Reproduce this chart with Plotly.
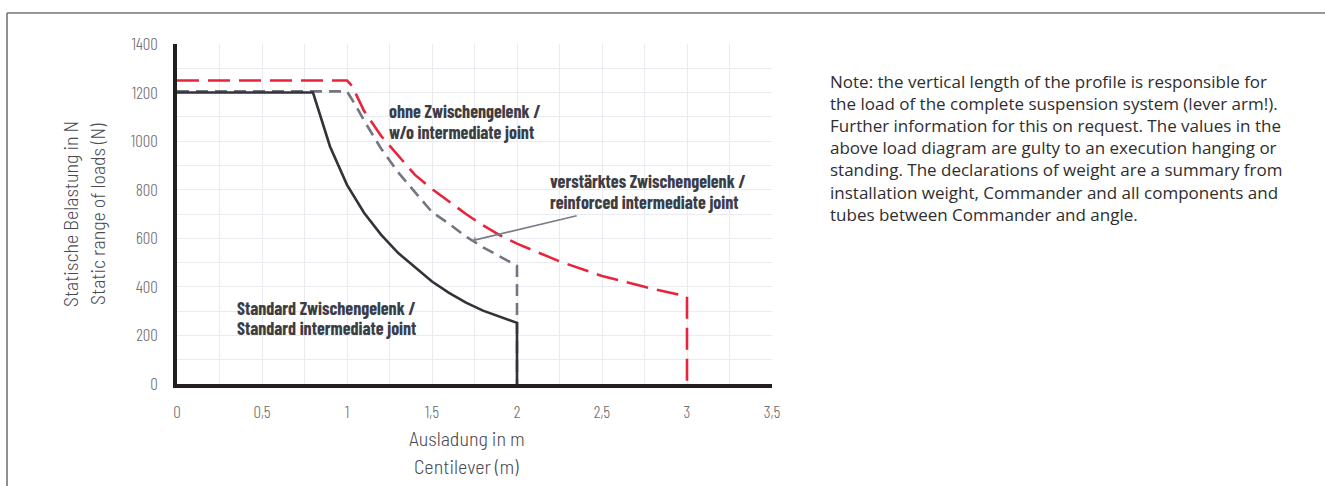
import plotly.graph_objects as go

# Load curves: cantilever length (m) vs. permissible static load (N)
std_x = [0, 0.8, 0.9, 1.0, 1.1, 1.2, 1.3, 1.4, 1.5, 1.6, 1.7, 1.8, 1.9, 2.0, 2.0]
std_y = [1200, 1200, 978, 820, 705, 615, 540, 480, 422, 375, 335, 302, 276, 252, 0]

reinf_x = [0, 1.0, 1.05, 1.1, 1.2, 1.3, 1.4, 1.5, 1.6, 1.7, 1.8, 1.9, 2.0, 2.0]
reinf_y = [1205, 1205, 1148, 1085, 970, 872, 790, 708, 660, 607, 563, 524, 487, 0]

nojoint_x = [0, 1.0, 1.03, 1.1, 1.2, 1.3, 1.4, 1.5, 1.6, 1.7, 1.8, 1.9, 2.0, 2.25, 2.5, 2.75, 3.0, 3.0]
nojoint_y = [1250, 1250, 1227, 1125, 1022, 942, 861, 803, 750, 700, 653, 612, 578, 505, 445, 400, 360, 0]

x_ticks = [0, 0.5, 1, 1.5, 2, 2.5, 3, 3.5]
x_ticktext = ["0", "0,5", "1", "1,5", "2", "2,5", "3", "3,5"]
y_ticks = [0, 200, 400, 600, 800, 1000, 1200, 1400]

# curve labels: (x, y, text) per line
curve_labels = [
    (1.239, 1125, "ohne Zwischengelenk /"),
    (1.239, 1039, "w/o intermediate joint"),
    (2.188, 837, "verstärktes Zwischengelenk /"),
    (2.188, 751, "reinforced intermediate joint"),
    (0.345, 315, "Standard Zwischengelenk /"),
    (0.345, 231, "Standard intermediate joint"),
]

note_lines = [
    "Note: the vertical length of the profile is responsible for",
    "the load of the complete suspension system (lever arm!).",
    "Further information for this on request. The values in the",
    "above load diagram are gulty to an execution hanging or",
    "standing. The declarations of weight are a summary from",
    "installation weight, Commander and all components and",
    "tubes between Commander and angle.",
]

SEMI = "Barlow Semi Condensed, Barlow Condensed, Roboto Condensed, sans-serif"
COND = "Barlow Condensed, Roboto Condensed, sans-serif"
LABEL_COL = "#3d3d46"
GRID = "#e9ebf1"

fig = go.Figure()

# white backing box behind the upper label
fig.add_shape(type="rect", xref="x", yref="y", x0=1.182, x1=2.653, y0=1092, y1=1199,
              fillcolor="white", line=dict(width=0), layer="below")

fig.add_trace(go.Scatter(x=nojoint_x, y=nojoint_y, mode="lines",
                         line=dict(color="#e8243a", width=2.6, dash="22px,9px"),
                         name="ohne Zwischengelenk"))
fig.add_trace(go.Scatter(x=reinf_x, y=reinf_y, mode="lines",
                         line=dict(color="#737680", width=2.6, dash="12px,7px"),
                         name="verstärktes Zwischengelenk"))
fig.add_trace(go.Scatter(x=std_x, y=std_y, mode="lines",
                         line=dict(color="#323238", width=2.6),
                         name="Standard Zwischengelenk"))

ann_font = dict(family=COND, size=18, weight=700, color=LABEL_COL)
for lx, ly, txt in curve_labels:
    fig.add_annotation(x=lx, y=ly, xref="x", yref="y", xanchor="left", yanchor="middle",
                       text=txt, showarrow=False, font=ann_font, borderpad=0)

# leader line to the reinforced-joint curve
fig.add_annotation(x=1.74, y=591, ax=2.36, ay=694, xref="x", yref="y", axref="x", ayref="y",
                   text="", showarrow=True, arrowhead=4, arrowsize=0.6, arrowwidth=1.6,
                   arrowcolor="#7a7c86", standoff=0, startstandoff=0)

# axis titles
title_font = dict(family=SEMI, size=20, weight=300, color="#4a4a52")
for px_x, txt in [(-0.1798, "Statische Belastung in N"), (-0.1345, "Static range of loads (N)")]:
    fig.add_annotation(x=px_x, y=0.5, xref="paper", yref="paper", xanchor="center", yanchor="middle",
                       text=txt, textangle=-90, showarrow=False, font=title_font)
for py, txt in [(-0.1588, "Ausladung in m"), (-0.2412, "Centilever (m)")]:
    fig.add_annotation(x=0.487, y=py, xref="paper", yref="paper", xanchor="center", yanchor="middle",
                       text=txt, showarrow=False, font=title_font)

# explanatory note to the right of the chart
note_font = dict(family="Open Sans, Noto Sans, sans-serif", size=17, color="#2e2e2e")
fig.add_annotation(x=1.0958, y=(384 - 69) / 340, xref="paper", yref="paper",
                   xanchor="left", yanchor="top", text="<br>".join(note_lines), align="left",
                   showarrow=False, font=note_font, borderpad=0)

# outer frame (top and left border)
frame = dict(color="#747474", width=1.6)
fig.add_shape(type="line", xref="paper", yref="paper", x0=-0.2857, x1=1.93, y0=1.0912, y1=1.0912, line=frame)
fig.add_shape(type="line", xref="paper", yref="paper", x0=-0.2857, x1=-0.2857, y0=1.0912, y1=-0.31, line=frame)

fig.update_layout(
    width=1325, height=486,
    margin=dict(l=177, r=553, t=44, b=102),
    paper_bgcolor="white", plot_bgcolor="white",
    showlegend=False,
    font=dict(family=COND),
)
tick_font = dict(family=COND, size=17, weight=300, color="#6e6e6e")
fig.update_xaxes(range=[0, 3.5], tickvals=x_ticks, ticktext=x_ticktext,
                 showline=True, linecolor="#231f20", linewidth=3.5,
                 showgrid=True, gridcolor=GRID, gridwidth=1,
                 minor=dict(dtick=0.25, showgrid=True, gridcolor=GRID, gridwidth=1),
                 zeroline=False, ticks="", ticklabelstandoff=10, tickfont=tick_font)
fig.update_yaxes(range=[0, 1400], tickvals=y_ticks,
                 showline=True, linecolor="#231f20", linewidth=3.5,
                 showgrid=True, gridcolor=GRID, gridwidth=1,
                 minor=dict(dtick=100, showgrid=True, gridcolor=GRID, gridwidth=1),
                 zeroline=False, ticks="", ticklabelstandoff=12, tickfont=tick_font)

fig.write_html("out.html")
